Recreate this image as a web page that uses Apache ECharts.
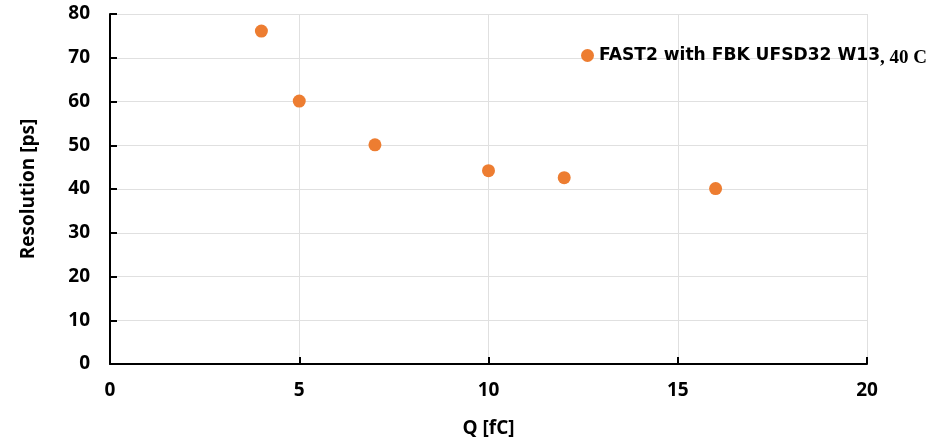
<!DOCTYPE html>
<html><head><meta charset="utf-8">
<script src="https://cdn.jsdelivr.net/npm/echarts@6/dist/echarts.min.js"></script>
<style>html,body{margin:0;padding:0;background:#fff}#c{width:944px;height:443px}</style>
</head><body><div id="c"></div>
<script>
const xValues = [4, 5, 7, 10, 12, 16];
const yValues = [76.1, 60.1, 50.1, 44.2, 42.6, 40.1];
const seriesName = 'FAST2 with FBK UFSD32 W13';
const seriesSuffix = ', 40 C';
const xTitle = 'Q [fC]';
const yTitle = 'Resolution [ps]';

const chart = echarts.init(document.getElementById('c'));
const font = 'Open Sans';
chart.setOption({
  backgroundColor: '#fff',
  animation: false,
  grid: {left: 110, right: 77, top: 14, bottom: 78},
  legend: {
    data: [seriesName],
    left: 576, top: 42,
    itemWidth: 13, itemHeight: 13, itemGap: 8,
    formatter: n => '{a|' + n + '}{b|' + seriesSuffix + '}',
    textStyle: {
      rich: {
        a: {fontFamily: 'DejaVu Sans', fontWeight: 'bold', fontSize: 17.1, color: '#000'},
        b: {fontFamily: 'Liberation Serif', fontWeight: 'bold', fontSize: 19, color: '#000', padding: [6,0,0,0]}
      }
    }
  },
  xAxis: {
    type: 'value', min: 0, max: 20, interval: 5,
    name: xTitle, nameLocation: 'middle', nameGap: 55,
    nameTextStyle: {fontFamily: font, fontWeight: 'bold', fontSize: 19, color: '#000'},
    axisLine: {lineStyle: {color: '#000', width: 2}},
    axisTick: {show: true, inside: true, length: 7, lineStyle: {color: '#000', width: 2}},
    axisLabel: {fontFamily: font, fontWeight: 'bold', fontSize: 19, color: '#000', margin: 17},
    splitLine: {show: true, lineStyle: {color: '#e0e0e0', width: 1}}
  },
  yAxis: {
    type: 'value', min: 0, max: 80, interval: 10,
    name: yTitle, nameLocation: 'middle', nameGap: 72, nameRotate: 90,
    nameTextStyle: {fontFamily: font, fontWeight: 'bold', fontSize: 19, color: '#000'},
    axisLine: {show: true, lineStyle: {color: '#000', width: 2}},
    axisTick: {show: true, inside: true, length: 7, lineStyle: {color: '#000', width: 2}},
    axisLabel: {fontFamily: font, fontWeight: 'bold', fontSize: 19, color: '#000', margin: 20},
    splitLine: {show: true, lineStyle: {color: '#e0e0e0', width: 1}}
  },
  series: [{
    name: seriesName,
    type: 'scatter',
    symbol: 'circle',
    symbolSize: 13,
    itemStyle: {color: '#ED7D31', opacity: 1},
    data: xValues.map((x, i) => [x, yValues[i]])
  }]
});
</script></body></html>
